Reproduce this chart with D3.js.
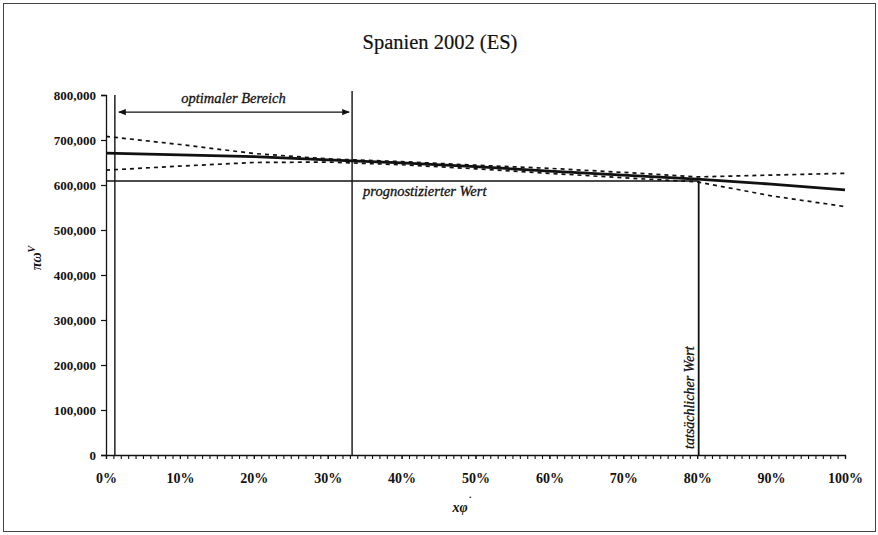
<!DOCTYPE html>
<html>
<head>
<meta charset="utf-8">
<script src="https://cdn.jsdelivr.net/npm/d3@7"></script>
<style>
  body { margin: 0; background: #fff; }
  svg { display: block; font-family: "Liberation Serif", "Times New Roman", serif; }
</style>
</head>
<body>
<svg id="chart"></svg>
<script>
const width = 878;
const height = 535;

// Werte (x in %, y in Tausend)
const xs = [0, 10, 20, 30, 40, 50, 60, 70, 80, 90, 100];
const solidVals = [671, 667, 663, 656, 649, 641, 631, 622, 613, 602, 589];
const upperVals = [708, 690, 670, 658, 652, 644, 637, 628, 618, 622, 626];
const lowerVals = [633, 642, 650, 651, 645, 636, 626, 616, 607, 576, 552];

const prognose = 609; // prognostizierter Wert
const optStart = 1.2;
const optEnd = 33.3;
const actual = 80.2; // tatsächlicher Wert

const yTicks = [0, 100000, 200000, 300000, 400000, 500000, 600000, 700000, 800000];
const xTicks = [0, 10, 20, 30, 40, 50, 60, 70, 80, 90, 100];

const svg = d3.select("#chart").attr("width", width).attr("height", height);

const xScale = d3.scaleLinear().domain([0, 100]).range([106, 845]);
const yScale = d3.scaleLinear().domain([0, 800000]).range([455, 95]);

const ink = "#111";

// Rahmen
svg.append("rect")
  .attr("x", 3.5).attr("y", 3.5)
  .attr("width", 872).attr("height", 528)
  .attr("fill", "none").attr("stroke", "#444").attr("stroke-width", 1);

// Titel
svg.append("text")
  .attr("x", 440).attr("y", 49)
  .attr("text-anchor", "middle")
  .attr("font-family", "Liberation Serif")
  .attr("font-size", 20.5)
  .attr("fill", ink)
  .attr("stroke", ink).attr("stroke-width", 0.2)
  .text("Spanien 2002 (ES)");

// Achsen
const styleLabels = (sel, size) => sel
  .attr("font-family", "Liberation Serif")
  .attr("font-size", size)
  .attr("font-weight", "bold")
  .attr("fill", ink);

const yAxis = d3.axisLeft(yScale)
  .tickValues(yTicks)
  .tickSize(5)
  .tickPadding(5)
  .tickFormat(d3.format(","));
svg.append("g")
  .attr("transform", `translate(${xScale(0)},0)`)
  .call(yAxis)
  .call((g) => {
    g.select(".domain").attr("stroke", ink).attr("stroke-width", 1.3);
    g.selectAll("line").attr("stroke", ink).attr("stroke-width", 1.2);
    styleLabels(g.selectAll("text"), 13);
  });

const xMinor = d3.axisBottom(xScale)
  .tickValues(d3.range(0, 101, 1))
  .tickSize(4)
  .tickFormat("");
svg.append("g")
  .attr("transform", `translate(0,${yScale(0)})`)
  .call(xMinor)
  .call((g) => {
    g.select(".domain").attr("stroke", ink).attr("stroke-width", 1.3);
    g.selectAll("line").attr("stroke", ink).attr("stroke-width", 1.1);
  });

const xAxis = d3.axisBottom(xScale)
  .tickValues(xTicks)
  .tickSize(4)
  .tickPadding(14)
  .tickFormat((d) => d + "%");
svg.append("g")
  .attr("transform", `translate(0,${yScale(0)})`)
  .call(xAxis)
  .call((g) => {
    g.select(".domain").remove();
    g.selectAll("line").attr("stroke", ink);
    styleLabels(g.selectAll("text"), 14);
  });

// Achsenbeschriftungen
svg.append("text")
  .attr("transform", "translate(41,258) rotate(-90)")
  .attr("text-anchor", "middle")
  .attr("font-style", "italic")
  .attr("font-weight", "bold")
  .attr("font-size", 14)
  .attr("fill", ink)
  .text("πω")
  .append("tspan")
  .attr("dy", -6)
  .attr("font-size", 10)
  .text("V");

svg.append("text")
  .attr("x", 462).attr("y", 512)
  .attr("text-anchor", "middle")
  .attr("font-style", "italic")
  .attr("font-weight", "bold")
  .attr("font-size", 14)
  .attr("fill", ink)
  .text("xφ")
  .append("tspan")
  .attr("dy", -8)
  .attr("font-size", 11)
  .text("˙");

// Linien
const line = d3.line()
  .x((d) => xScale(d[0]))
  .y((d) => yScale(d[1] * 1000));

[upperVals, lowerVals].forEach((vals) => {
  svg.append("path")
    .datum(xs.map((x, i) => [x, vals[i]]))
    .attr("d", line)
    .attr("fill", "none")
    .attr("stroke", ink)
    .attr("stroke-width", 1.7)
    .attr("stroke-dasharray", "4,4");
});

svg.append("path")
  .datum(xs.map((x, i) => [x, solidVals[i]]))
  .attr("d", line)
  .attr("fill", "none")
  .attr("stroke", ink)
  .attr("stroke-width", 2.8);

// prognostizierter Wert
svg.append("line")
  .attr("x1", xScale(0)).attr("x2", xScale(actual))
  .attr("y1", yScale(prognose * 1000)).attr("y2", yScale(prognose * 1000))
  .attr("stroke", ink).attr("stroke-width", 1.4);

const italicLabel = (sel) => sel
  .attr("font-family", "Liberation Serif")
  .attr("font-style", "italic")
  .attr("font-size", 14.5)
  .attr("fill", ink)
  .attr("stroke", ink).attr("stroke-width", 0.3);

svg.append("text")
  .attr("x", xScale(optEnd) + 11).attr("y", yScale(prognose * 1000) + 15)
  .call(italicLabel)
  .text("prognostizierter Wert");

// vertikale Linien
svg.append("line")
  .attr("x1", xScale(optStart)).attr("x2", xScale(optStart))
  .attr("y1", yScale(800000)).attr("y2", yScale(0))
  .attr("stroke", ink).attr("stroke-width", 1.4);

svg.append("line")
  .attr("x1", xScale(optEnd)).attr("x2", xScale(optEnd))
  .attr("y1", yScale(800000) - 4).attr("y2", yScale(0))
  .attr("stroke", ink).attr("stroke-width", 1.4);

svg.append("line")
  .attr("x1", xScale(actual)).attr("x2", xScale(actual))
  .attr("y1", yScale(prognose * 1000)).attr("y2", yScale(0))
  .attr("stroke", ink).attr("stroke-width", 1.8);

svg.append("text")
  .attr("transform", `translate(${xScale(actual) - 5},${yScale(0) - 6}) rotate(-90)`)
  .call(italicLabel)
  .attr("font-size", 14)
  .text("tatsächlicher Wert");

// optimaler Bereich
const defs = svg.append("defs");
defs.append("marker")
  .attr("id", "arrow")
  .attr("viewBox", "0 0 10 10")
  .attr("refX", 9).attr("refY", 5)
  .attr("markerWidth", 7).attr("markerHeight", 7)
  .attr("orient", "auto-start-reverse")
  .append("path")
  .attr("d", "M0,1 L10,5 L0,9 Z")
  .attr("fill", ink);

svg.append("line")
  .attr("x1", xScale(optStart) + 4).attr("x2", xScale(optEnd) - 3)
  .attr("y1", yScale(762000)).attr("y2", yScale(762000))
  .attr("stroke", ink).attr("stroke-width", 1.1)
  .attr("marker-start", "url(#arrow)")
  .attr("marker-end", "url(#arrow)");

svg.append("text")
  .attr("x", (xScale(optStart) + xScale(optEnd)) / 2).attr("y", yScale(762000) - 9)
  .attr("text-anchor", "middle")
  .call(italicLabel)
  .text("optimaler Bereich");
</script>
</body>
</html>
